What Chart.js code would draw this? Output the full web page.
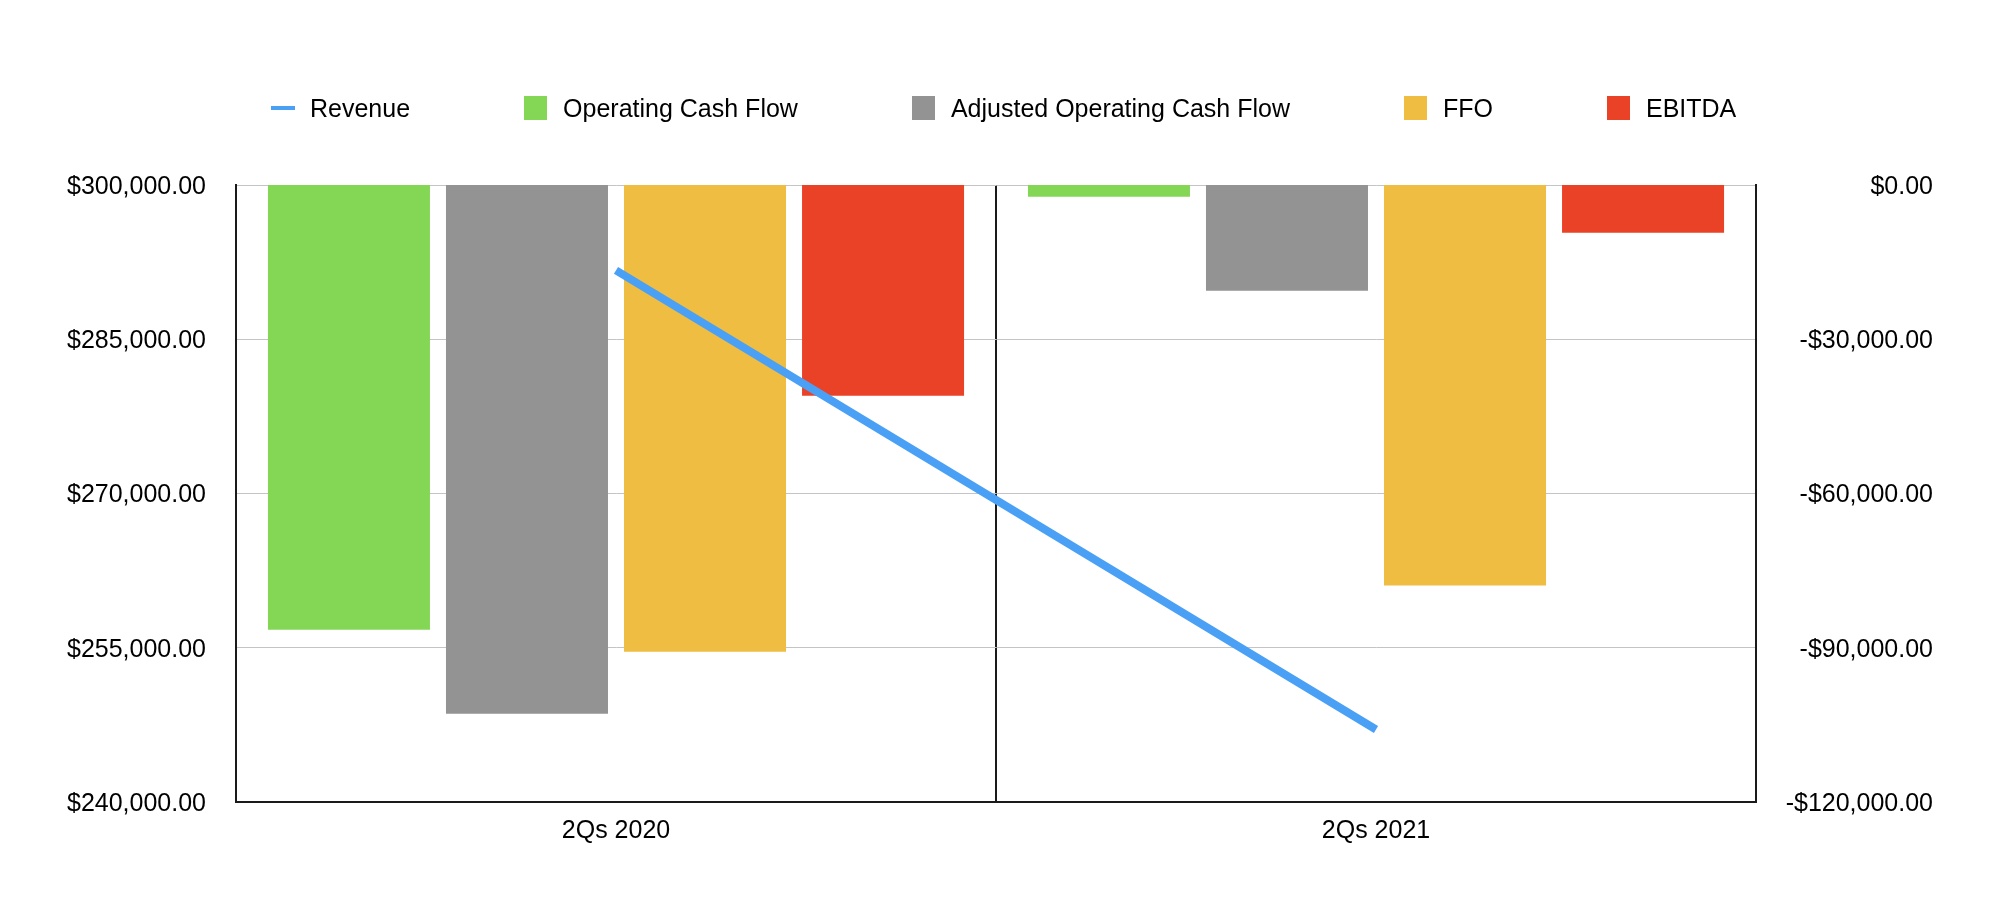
<!DOCTYPE html>
<html lang="en">
<head>
    <meta charset="UTF-8">
    <title>Revenue, Cash Flow, FFO and EBITDA</title>
    <style>
        body {
            margin: 0;
            background: #ffffff;
            font-family: "Liberation Sans", Arial, sans-serif;
        }
        .wrap {
            position: relative;
            width: 2014px;
            height: 908px;
        }
        #legenda {
            position: absolute;
            left: 271px;
            top: 92px;
            display: flex;
            align-items: center;
            height: 32px;
            font-size: 25px;
            color: #000;
        }
        .item {
            display: flex;
            align-items: center;
            margin-right: 114px;
        }
        .item:last-child {
            margin-right: 0;
        }
        .caixa {
            width: 23px;
            height: 24px;
            margin-right: 16px;
        }
        .traco {
            width: 24px;
            height: 4px;
            margin-right: 15px;
        }
    </style>
</head>
<body>
    <div class="wrap">
        <div id="legenda"></div>
        <canvas id="grafico" width="2014" height="908"></canvas>
    </div>

    <script src="https://cdn.jsdelivr.net/npm/chart.js"></script>
    <script>
        // data
        const categorias = ['2Qs 2020', '2Qs 2021'];
        const revenue = [291700, 247050];
        const operatingCashFlow = [-86500, -2300];
        const adjustedOperatingCashFlow = [-102850, -20550];
        const ffo = [-90800, -77900];
        const ebitda = [-41000, -9300];

        const nomes = ['Revenue', 'Operating Cash Flow', 'Adjusted Operating Cash Flow', 'FFO', 'EBITDA'];
        const cores = ['#4aa0f5', '#84d655', '#939393', '#eebd42', '#ea4227'];

        function dinheiro(v) {
            let s = Math.abs(v).toLocaleString('en-US', { minimumFractionDigits: 2, maximumFractionDigits: 2 });
            return (v < 0 ? '-$' : '$') + s;
        }

        // legend as plain html above the canvas
        let legenda = document.getElementById('legenda');
        nomes.forEach(function (nome, i) {
            let item = document.createElement('div');
            item.className = 'item';
            let marca = document.createElement('span');
            marca.className = i === 0 ? 'traco' : 'caixa';
            marca.style.background = cores[i];
            let texto = document.createElement('span');
            texto.innerText = nome;
            item.appendChild(marca);
            item.appendChild(texto);
            legenda.appendChild(item);
        });

        const fonte = { family: '"Liberation Sans", Arial, sans-serif', size: 25 };
        const preto = '#1a1a1a';

        function barra(nome, dados, cor) {
            return {
                type: 'bar',
                label: nome,
                data: dados,
                backgroundColor: cor,
                yAxisID: 'y1',
                order: 1,
                categoryPercentage: 0.937,
                barPercentage: 0.91
            };
        }

        let ctx = document.getElementById('grafico').getContext('2d');
        new Chart(ctx, {
            data: {
                labels: categorias,
                datasets: [
                    {
                        type: 'line',
                        label: nomes[0],
                        data: revenue,
                        borderColor: cores[0],
                        backgroundColor: cores[0],
                        borderWidth: 8,
                        pointRadius: 0,
                        tension: 0,
                        yAxisID: 'y',
                        order: 0
                    },
                    barra(nomes[1], operatingCashFlow, cores[1]),
                    barra(nomes[2], adjustedOperatingCashFlow, cores[2]),
                    barra(nomes[3], ffo, cores[3]),
                    barra(nomes[4], ebitda, cores[4])
                ]
            },
            options: {
                responsive: false,
                animation: false,
                layout: { padding: { top: 185, left: 0, right: 81, bottom: 0 } },
                plugins: {
                    legend: { display: false },
                    tooltip: { enabled: false }
                },
                scales: {
                    x: {
                        offset: true,
                        grid: { offset: true, color: preto, lineWidth: 2, drawTicks: false },
                        border: { color: preto, width: 2 },
                        ticks: { color: '#000', font: fonte, padding: 14 },
                        afterFit: function (eixo) { eixo.height = 106; }
                    },
                    y: {
                        position: 'left',
                        min: 240000,
                        max: 300000,
                        ticks: {
                            stepSize: 15000,
                            color: '#000',
                            font: fonte,
                            padding: 30,
                            labelOffset: 2,
                            callback: function (v) { return dinheiro(v); }
                        },
                        grid: { color: '#c4c4c4', lineWidth: 1, drawTicks: false },
                        border: { color: preto, width: 2 },
                        afterFit: function (eixo) { eixo.width = 236; }
                    },
                    y1: {
                        position: 'right',
                        min: -120000,
                        max: 0,
                        ticks: {
                            stepSize: 30000,
                            color: '#000',
                            font: fonte,
                            crossAlign: 'far',
                            labelOffset: 2,
                            callback: function (v) { return dinheiro(v); }
                        },
                        grid: { display: false, drawTicks: false },
                        border: { color: preto, width: 2 },
                        afterFit: function (eixo) { eixo.width = 177; }
                    }
                }
            }
        });
    </script>
</body>
</html>
